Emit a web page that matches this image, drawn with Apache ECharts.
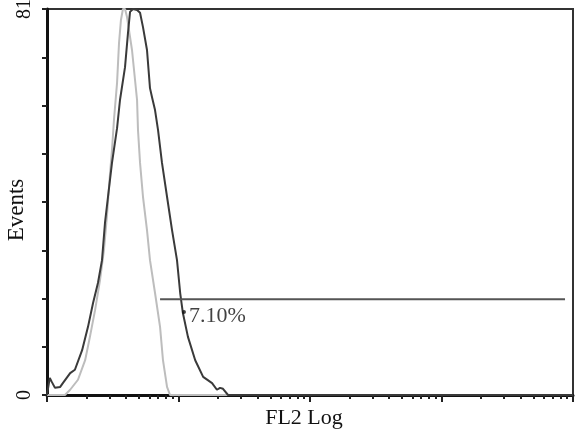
<!DOCTYPE html>
<html>
<head>
<meta charset="utf-8">
<script src="https://cdn.jsdelivr.net/npm/echarts@6/dist/echarts.min.js"></script>
<style>
  html, body { margin: 0; padding: 0; background: #fff; }
  #hist { width: 580px; height: 433px; }
</style>
</head>
<body>
<div id="hist"></div>
<script>
// FL2 value, events
var sampleCurve = [
  [1, 0], [1.02, 1.5], [1.05, 3.6], [1.09, 2.7], [1.15, 1.5], [1.26, 1.7], [1.32, 2.5],
  [1.50, 4.6], [1.63, 5.3], [1.85, 9.4], [2.05, 14.3], [2.24, 19.3], [2.44, 23.5],
  [2.62, 28.3], [2.76, 36.1], [2.91, 41.6], [3.12, 48.7], [3.41, 56.0], [3.59, 61.9],
  [3.92, 68.8], [4.13, 76.0], [4.28, 80.4], [4.51, 81], [4.84, 80.8], [5.10, 80.2],
  [5.37, 77.2], [5.76, 72.4], [6.07, 64.4], [6.29, 62.5], [6.63, 59.8], [6.99, 55.6],
  [7.49, 48.7], [8.18, 41.6], [8.93, 34.6], [9.74, 28.3], [10.3, 21.4], [10.8, 17.2],
  [11.8, 12.2], [13.4, 7.3], [15.4, 3.8], [18.0, 2.5], [19.6, 1.1], [20.7, 1.5],
  [21.8, 1.3], [23.8, 0], [10000, 0]
];
var controlCurve = [
  [1, 0], [1.37, 0], [1.50, 1.1], [1.72, 3.2], [1.95, 7.3], [2.12, 12.2], [2.32, 17.8],
  [2.53, 24.1], [2.71, 30.4], [2.86, 37.8], [3.01, 46.2], [3.12, 51.4], [3.23, 57.7],
  [3.41, 65.5], [3.53, 73.9], [3.65, 78.7], [3.78, 81], [3.92, 81], [4.06, 79.3],
  [4.43, 72.4], [4.84, 61.9], [4.92, 55.6], [5.10, 48.7], [5.37, 41.6], [5.76, 34.6],
  [6.07, 28.3], [6.63, 21.4], [7.24, 14.3], [7.62, 7.3], [8.18, 1.7], [8.62, 0], [10000, 0]
];
var gateRange = [7.24, 8696];
var gateLevel = 20.1;
var gateText = '7.10%';
var gateLabelAt = [11.0, 17.4];

var yMax = 81;
var yLabels = [0, 81];
var majorTicks = [1, 10, 100, 1000, 10000];
var minorTicks = [
  2, 3, 4, 5, 6, 7, 8, 9,
  20, 30, 40, 50, 60, 70, 80, 90,
  200, 300, 400, 500, 600, 700, 800, 900,
  2000, 3000, 4000, 5000, 6000, 7000, 8000, 9000
];

var chart = echarts.init(document.getElementById('hist'));
var serif = 'Liberation Serif';

var option = {
  backgroundColor: '#fff',
  animation: false,
  grid: {
    left: 47, right: 7, top: 9, bottom: 38,
    containLabel: false, outerBoundsMode: 'none',
    show: true, borderColor: '#333', borderWidth: 2
  },
  xAxis: [
    {
      type: 'log', logBase: 10, min: 1, max: 10000,
      name: 'FL2 Log', nameLocation: 'middle', nameGap: 12, nameMoveOverlap: false,
      nameTextStyle: { fontFamily: serif, fontSize: 22, color: '#111', padding: [0, 12, 0, 0] },
      axisLine: { lineStyle: { color: '#111', width: 3 } },
      axisTick: { customValues: majorTicks, length: 7, lineStyle: { color: '#222', width: 2 } },
      axisLabel: { show: false },
      splitLine: { show: false }
    },
    {
      type: 'log', logBase: 10, min: 1, max: 10000,
      position: 'bottom',
      axisLine: { show: false },
      axisTick: { customValues: minorTicks, length: 4, lineStyle: { color: '#222', width: 2 } },
      axisLabel: { show: false },
      splitLine: { show: false }
    }
  ],
  yAxis: {
    type: 'value', min: 0, max: yMax, interval: yMax / 8,
    name: 'Events', nameLocation: 'middle', nameGap: 19, nameRotate: 90, nameMoveOverlap: false,
    nameTextStyle: { fontFamily: serif, fontSize: 23, color: '#111', padding: [0, 16, 0, 0] },
    axisLine: { show: true, lineStyle: { color: '#111', width: 3 } },
    axisTick: { show: true, length: 5, lineStyle: { color: '#222', width: 2 } },
    axisLabel: {
      rotate: 90, margin: 12,
      fontFamily: serif, fontSize: 20, color: '#111',
      formatter: function (v) { return yLabels.indexOf(v) >= 0 ? String(v) : ''; }
    },
    splitLine: { show: false }
  },
  series: [
    {
      type: 'line', data: controlCurve, showSymbol: false, symbol: 'none',
      lineStyle: { color: '#bdbdbd', width: 2 }, z: 2
    },
    {
      type: 'line', data: sampleCurve, showSymbol: false, symbol: 'none',
      lineStyle: { color: '#3a3a3a', width: 2 }, z: 3
    },
    {
      type: 'line', symbol: 'none',
      data: [[gateRange[0], gateLevel], [gateRange[1], gateLevel]],
      lineStyle: { color: '#555', width: 2 }, z: 4
    },
    {
      type: 'scatter', data: [gateLabelAt], symbolSize: 4,
      itemStyle: { color: '#111' }, z: 5,
      label: {
        show: true, position: 'right', distance: 3, offset: [0, 4],
        formatter: gateText,
        fontFamily: serif, fontSize: 22, color: '#111'
      }
    }
  ]
};
chart.setOption(option);
</script>
</body>
</html>
